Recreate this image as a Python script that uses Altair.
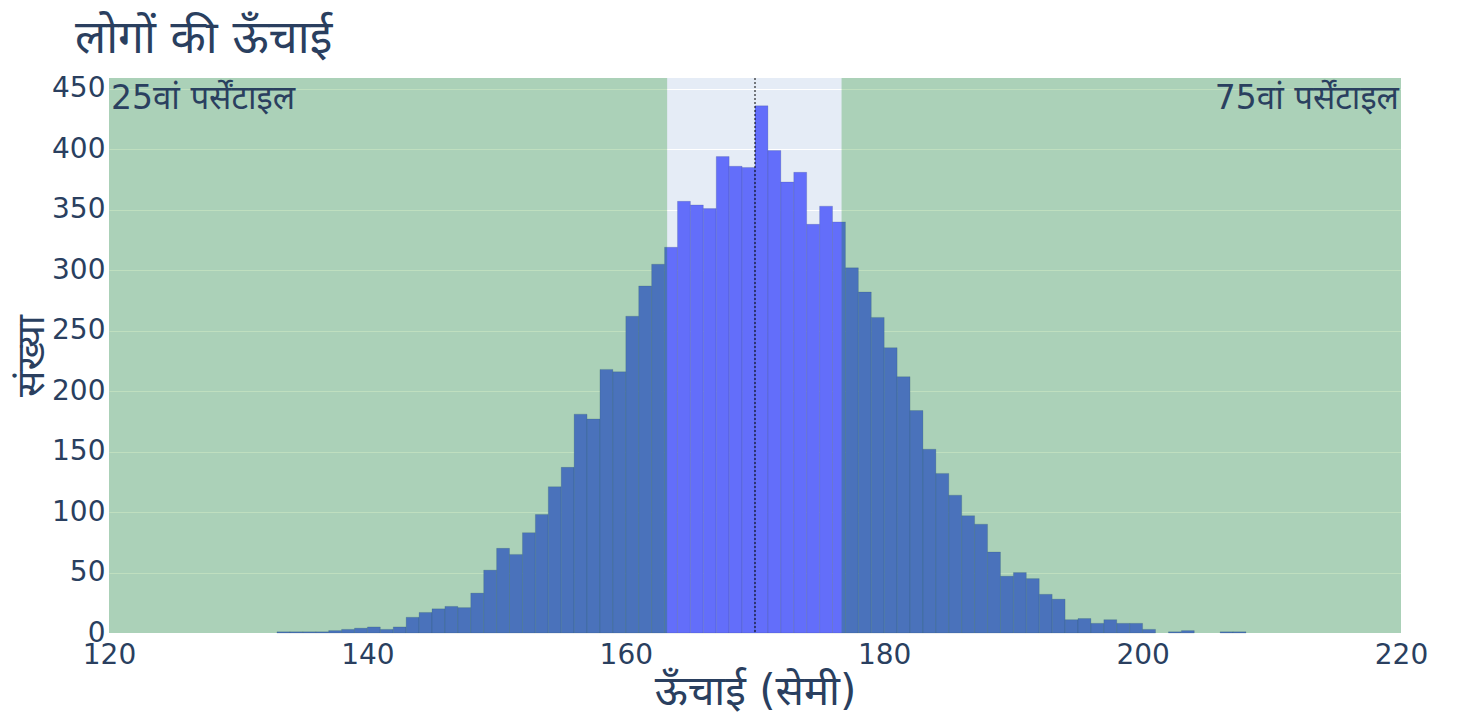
import altair as alt
import pandas as pd

# Histogram bins (1 cm wide, left edges) and counts
bin_starts = list(range(133, 208))
counts = [1, 1, 1, 1, 2, 3, 4, 5, 3, 5,
          13, 17, 20, 22, 21, 33, 52, 70, 65, 83,
          98, 121, 137, 181, 177, 218, 216, 262, 287, 305,
          319, 357, 354, 351, 394, 386, 385, 436, 399, 373,
          381, 338, 353, 340, 302, 282, 261, 236, 212, 184,
          152, 132, 114, 97, 90, 67, 47, 50, 45, 32,
          28, 11, 12, 8, 11, 8, 8, 3, 0, 1,
          2, 0, 0, 1, 1]

p25 = 163.2
p75 = 176.7
mean_height = 170.0
x_min, x_max = 120, 220
y_max = 459

x_ticks = [120, 140, 160, 180, 200, 220]
y_ticks = [0, 50, 100, 150, 200, 250, 300, 350, 400, 450]

title_text = "लोगों की ऊँचाई"
x_title = "ऊँचाई (सेमी)"
y_title = "संख्या"
label_25 = "25वां पर्सेंटाइल"
label_75 = "75वां पर्सेंटाइल"

FONT = "DejaVu Sans, Noto Sans, sans-serif"
TXT = "#2a3f5f"

hist = pd.DataFrame({
    "start": bin_starts,
    "end": [b + 1 for b in bin_starts],
    "count": counts,
})
shade = pd.DataFrame({"x1": [x_min, p75], "x2": [p25, x_max]})

xscale = alt.Scale(domain=[x_min, x_max], nice=False, zero=False)
yscale = alt.Scale(domain=[0, y_max], nice=False)

bars = alt.Chart(hist).transform_filter("datum.count > 0").mark_rect(
    color="#636EFA", stroke="#2a3f5f", strokeOpacity=0.22, strokeWidth=0.8
).encode(
    x=alt.X("start:Q", scale=xscale, axis=alt.Axis(
        values=x_ticks, title=x_title, grid=False, ticks=False, domain=False,
        labelFontSize=28, labelColor=TXT, labelFont=FONT, labelPadding=8,
        titleFontSize=42, titleColor=TXT, titleFont=FONT, titleFontWeight="normal",
        titlePadding=2, labelFlush=False)),
    x2="end:Q",
    y=alt.Y("count:Q", scale=yscale, axis=alt.Axis(
        values=y_ticks, title=y_title, grid=True, gridColor="white", gridWidth=1,
        ticks=False, domain=False, labelFontSize=28, labelColor=TXT, labelFont=FONT,
        labelPadding=4, titleFontSize=39, titleColor=TXT, titleFont=FONT,
        titleFontWeight="normal", titlePadding=0)),
    y2=alt.datum(0),
)

rects = alt.Chart(shade).mark_rect(color="green", opacity=0.25).encode(
    x=alt.X("x1:Q", scale=xscale),
    x2="x2:Q",
    y=alt.value(0),
    y2=alt.value(555),
)

vline = alt.Chart(pd.DataFrame({"m": [mean_height]})).mark_rule(
    color="black", strokeDash=[2, 2], strokeWidth=1
).encode(x=alt.X("m:Q", scale=xscale), y=alt.value(0), y2=alt.value(555))

text_left = alt.Chart(pd.DataFrame({"x": [x_min], "label": [label_25]})).mark_text(
    fontSize=33, font=FONT, color=TXT, baseline="top", align="left", dx=2
).encode(x=alt.X("x:Q", scale=xscale), y=alt.value(5), text="label:N")

text_right = alt.Chart(pd.DataFrame({"x": [x_max], "label": [label_75]})).mark_text(
    fontSize=33, font=FONT, color=TXT, baseline="top", align="right", dx=-2
).encode(x=alt.X("x:Q", scale=xscale), y=alt.value(5), text="label:N")

chart = alt.layer(bars, rects, vline, text_left, text_right).properties(
    width=1292, height=555,
    title=alt.TitleParams(title_text, anchor="start", frame="group", dx=-34,
                          fontSize=46, font=FONT, color=TXT, fontWeight="normal",
                          offset=12),
    autosize=alt.AutoSizeParams(type="none"),
    padding={"left": 101, "top": 70, "right": 55, "bottom": 80},
    background="white",
).configure_view(fill="#E5ECF6", stroke=None)

chart.save("out.html", embed_options={"renderer": "svg", "actions": False})
